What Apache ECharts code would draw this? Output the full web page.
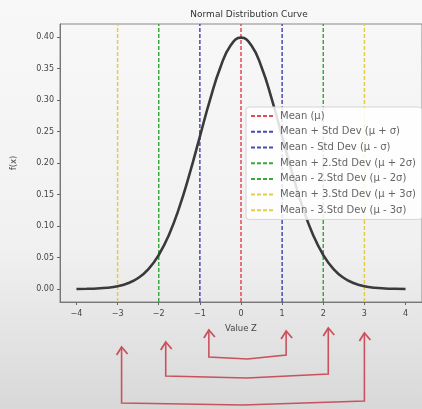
<!doctype html>
<html>
<head>
<meta charset="utf-8">
<title>Normal Distribution Curve</title>
<style>
html, body { margin: 0; padding: 0; }
#main { width: 422px; height: 409px; }
</style>
</head>
<body>
<div id="main"></div>
<script src="https://cdn.jsdelivr.net/npm/echarts@6/dist/echarts.min.js"></script>
<script>
// values
var zValues = [-4, -3.75, -3.5, -3.25, -3, -2.75, -2.5, -2.25, -2, -1.75, -1.5, -1.25, -1, -0.75, -0.5, -0.25,
	0, 0.25, 0.5, 0.75, 1, 1.25, 1.5, 1.75, 2, 2.25, 2.5, 2.75, 3, 3.25, 3.5, 3.75, 4];
var density = [0.0001, 0.0004, 0.0009, 0.0020, 0.0044, 0.0091, 0.0175, 0.0317, 0.0540, 0.0863, 0.1295, 0.1826, 0.2420, 0.3011, 0.3521, 0.3867,
	0.3989, 0.3867, 0.3521, 0.3011, 0.2420, 0.1826, 0.1295, 0.0863, 0.0540, 0.0317, 0.0175, 0.0091, 0.0044, 0.0020, 0.0009, 0.0004, 0.0001];
var lineNames = ['Mean (μ)', 'Mean + Std Dev (μ + σ)', 'Mean - Std Dev (μ - σ)', 'Mean + 2.Std Dev (μ + 2σ)',
	'Mean - 2.Std Dev (μ - 2σ)', 'Mean + 3.Std Dev (μ + 3σ)', 'Mean - 3.Std Dev (μ - 3σ)'];
var lineZ = [0, 1, -1, 2, -2, 3, -3];
var xTicks = [-4, -3, -2, -1, 0, 1, 2, 3, 4];
var yTicks = [0, 0.05, 0.1, 0.15, 0.2, 0.25, 0.3, 0.35, 0.4];

var yLow = -0.0206, yHigh = 0.4206;
var lineColors = ['#e24a5a', '#4a4ab0', '#4a4ab0', '#3aa83a', '#3aa83a', '#e2cf45', '#e2cf45'];
var font = 'DejaVu Sans';

var curve = [];
for (var i = 0; i < zValues.length; i++) {
	curve.push([zValues[i], density[i]]);
}

var series = [{
	name: 'pdf',
	type: 'line',
	data: curve,
	smooth: true,
	symbol: 'none',
	lineStyle: { color: '#3a3a3a', width: 2.6 },
	z: 3
}];
for (var k = 0; k < lineNames.length; k++) {
	series.push({
		name: lineNames[k],
		type: 'line',
		data: [[lineZ[k], yLow], [lineZ[k], yHigh]],
		symbol: 'none',
		color: lineColors[k],
		lineStyle: { color: lineColors[k], width: 1.5, type: [4, 2] },
		z: 2
	});
}

var myChart = echarts.init(document.getElementById('main'));
var option = {
	animation: false,
	backgroundColor: {
		type: 'linear', x: 0, y: 0, x2: 0, y2: 1,
		colorStops: [
			{ offset: 0, color: '#f8f8f8' },
			{ offset: 0.6, color: '#f1f1f1' },
			{ offset: 1, color: '#d8d8d8' }
		]
	},
	title: {
		text: 'Normal Distribution Curve',
		left: 244, top: 5, textAlign: 'center',
		textStyle: { fontFamily: font, fontSize: 9, fontWeight: 'normal', color: '#333' }
	},
	grid: {
		left: 60, right: -9, top: 24, bottom: 107,
		show: true, borderColor: '#888', borderWidth: 1
	},
	legend: {
		data: lineNames,
		orient: 'vertical',
		left: 246, top: 107,
		itemWidth: 24, itemHeight: 8, itemGap: 3.5,
		padding: [3, 6, 3, 4],
		itemStyle: { opacity: 0 },
		backgroundColor: 'rgba(255,255,255,0.85)',
		borderColor: '#d4d4d4', borderWidth: 1, borderRadius: 3,
		textStyle: { fontFamily: font, fontSize: 10, color: '#666', lineHeight: 12.2 }
	},
	xAxis: {
		type: 'value', min: -4.4, max: 4.4,
		name: 'Value Z', nameLocation: 'middle', nameGap: 22,
		nameTextStyle: { fontFamily: font, fontSize: 8.5, color: '#444' },
		axisLine: { onZero: false, lineStyle: { color: '#777' } },
		axisTick: { customValues: xTicks, length: 3, lineStyle: { color: '#666' } },
		axisLabel: { customValues: xTicks, fontFamily: font, fontSize: 8, color: '#444', margin: 8,
			formatter: function (v) { return v < 0 ? '−' + Math.abs(v) : String(v); } },
		splitLine: { show: false }
	},
	yAxis: {
		type: 'value', min: yLow, max: yHigh,
		name: 'f(x)', nameLocation: 'middle', nameGap: 42, nameRotate: 90,
		nameTextStyle: { fontFamily: font, fontSize: 8.5, color: '#444' },
		axisLine: { show: true, onZero: false, lineStyle: { color: '#777' } },
		axisTick: { show: true, customValues: yTicks, length: 3, lineStyle: { color: '#666' } },
		axisLabel: { customValues: yTicks, fontFamily: font, fontSize: 8, color: '#444', margin: 6,
			formatter: function (v) { return v.toFixed(2); } },
		splitLine: { show: false }
	},
	series: series
};
myChart.setOption(option);

// hand-drawn arrows under the axis (pairs -1/1, -2/2, -3/3)
function px(v) { return myChart.convertToPixel({ xAxisIndex: 0 }, v); }
var arrowSets = [
	{ a: -1, b: 1, da: 9, db: 4, tipA: 330, tipB: 331, low: 357 },
	{ a: -2, b: 2, da: 7, db: 5, tipA: 342, tipB: 328, low: 376 },
	{ a: -3, b: 3, da: 4, db: 0, tipA: 347, tipB: 333, low: 403 }
];
var red = '#c9525e';
var shapes = [];
arrowSets.forEach(function (s) {
	var xa = px(s.a) + s.da, xb = px(s.b) + s.db;
	shapes.push({
		type: 'polyline',
		shape: { points: [[xa, s.tipA], [xa, s.low], [(xa + xb) / 2, s.low + 2], [xb, s.low - 2], [xb, s.tipB]] },
		style: { stroke: red, lineWidth: 1.6, fill: null }
	});
	[[xa, s.tipA], [xb, s.tipB]].forEach(function (t) {
		shapes.push({
			type: 'polyline',
			shape: { points: [[t[0] - 5, t[1] + 8], [t[0], t[1]], [t[0] + 6, t[1] + 7]] },
			style: { stroke: red, lineWidth: 1.8, fill: null }
		});
	});
});
myChart.setOption({ graphic: shapes });
</script>
</body>
</html>
